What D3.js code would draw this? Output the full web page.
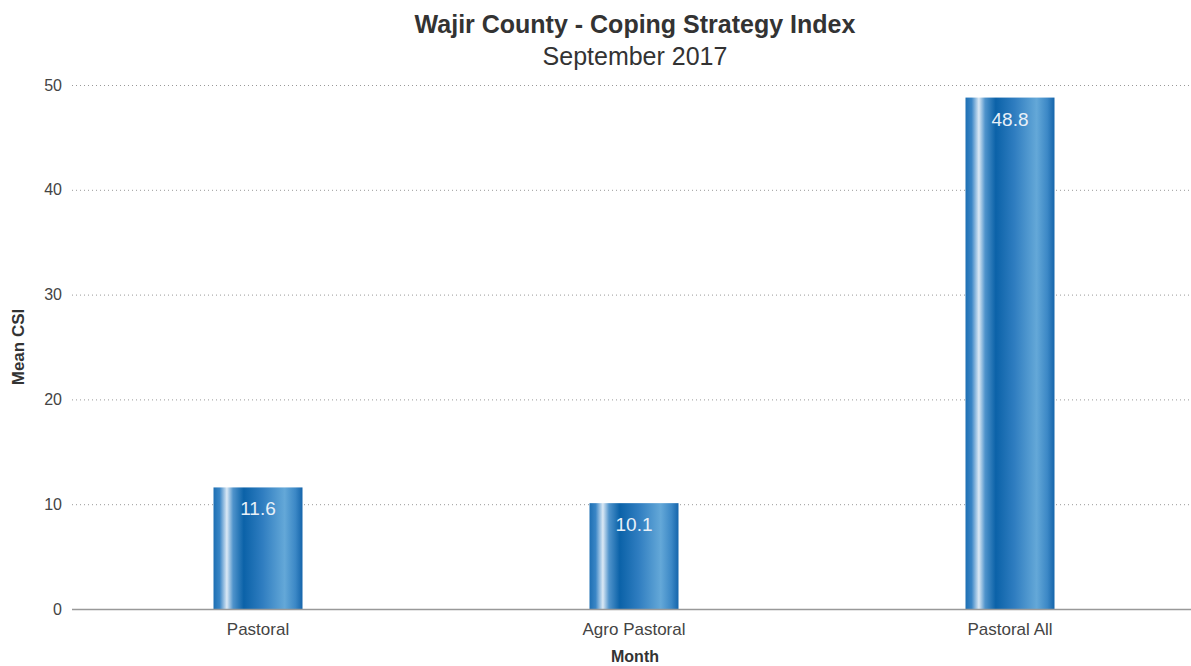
<!DOCTYPE html>
<html><head><meta charset="utf-8">
<script src="https://cdn.jsdelivr.net/npm/d3@7"></script>
<style>body{margin:0;background:#fff;font-family:"Liberation Sans",Arial,sans-serif;}</style>
</head><body><svg id="c" width="1191" height="666"></svg>
<script>
const categories = ["Pastoral", "Agro Pastoral", "Pastoral All"];
const values = [11.6, 10.1, 48.8];
const yTicks = [0, 10, 20, 30, 40, 50];

const svg = d3.select("#c");
const W = 1191, H = 666;
const FONT = "Liberation Sans, Arial, sans-serif";
const x = d3.scaleBand().domain(categories).range([70, 1198]);
const y = d3.scaleLinear().domain([0, 50]).range([609, 85]);

const defs = svg.append("defs");
const g = defs.append("linearGradient").attr("id", "bg").attr("x1", "0%").attr("x2", "100%").attr("y1", "0%").attr("y2", "0%");
[[0, "#1d6fb3"], [0.07, "#3a86c6"], [0.15, "#dbe9f5"], [0.22, "#4f93cb"], [0.34, "#0b62a8"], [0.55, "#2f7dc0"], [0.8, "#64a8d8"], [0.92, "#3c88c6"], [1, "#1565ab"]]
  .forEach(([o, c]) => g.append("stop").attr("offset", o).attr("stop-color", c));

// gridlines
svg.append("g").selectAll("line").data(yTicks.filter(d => d > 0)).join("line")
  .attr("x1", 72).attr("x2", W).attr("y1", d => y(d) + 0.5).attr("y2", d => y(d) + 0.5)
  .attr("stroke", "#999").attr("stroke-width", 1).attr("stroke-dasharray", "1,3");

// y axis labels
const ya = svg.append("g").attr("transform", "translate(62,0)")
  .call(d3.axisLeft(y).tickValues(yTicks).tickSize(0).tickPadding(0));
ya.select(".domain").remove();
ya.selectAll("text").attr("font-size", 16).attr("fill", "#444").attr("font-family", FONT);

// bars
const bw = 89;
svg.append("g").selectAll("rect").data(values).join("rect")
  .attr("x", (d, i) => x(categories[i]) + x.bandwidth() / 2 - bw / 2)
  .attr("width", bw)
  .attr("y", d => y(d))
  .attr("height", d => y(0) - y(d))
  .attr("fill", "url(#bg)");

// value labels
svg.append("g").selectAll("text").data(values).join("text")
  .attr("x", (d, i) => x(categories[i]) + x.bandwidth() / 2)
  .attr("y", d => y(d) + 28)
  .attr("text-anchor", "middle").attr("font-size", 19).attr("fill", "#e8f0f8").attr("font-family", FONT)
  .text(d => d.toFixed(1));

// x axis
const xa = svg.append("g").attr("transform", `translate(0,${y(0)})`)
  .call(d3.axisBottom(x).tickSize(0).tickPadding(14));
xa.select(".domain").attr("d", `M72,0.5H${W}`).attr("stroke", "#999").attr("stroke-width", 1.5);
xa.selectAll("text").attr("font-size", 17).attr("fill", "#444").attr("font-family", FONT);

// titles
svg.append("text").attr("x", 635).attr("y", 33).attr("text-anchor", "middle").attr("font-family", FONT)
  .attr("font-size", 25).attr("font-weight", "bold").attr("fill", "#333").text("Wajir County - Coping Strategy Index");
svg.append("text").attr("x", 635).attr("y", 65).attr("text-anchor", "middle").attr("font-family", FONT)
  .attr("font-size", 25).attr("fill", "#333").text("September 2017");
svg.append("text").attr("x", 635).attr("y", 662).attr("text-anchor", "middle").attr("font-family", FONT)
  .attr("font-size", 16).attr("font-weight", "bold").attr("fill", "#333").text("Month");
svg.append("text").attr("transform", "translate(24,347) rotate(-90)").attr("text-anchor", "middle").attr("font-family", FONT)
  .attr("font-size", 17).attr("font-weight", "bold").attr("fill", "#333").text("Mean CSI");
</script></body></html>
